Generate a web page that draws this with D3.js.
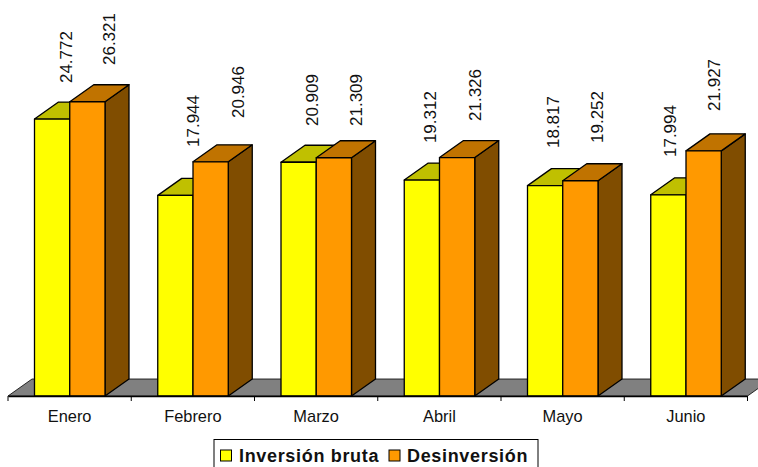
<!DOCTYPE html>
<html>
<head>
<meta charset="utf-8">
<script src="https://cdn.jsdelivr.net/npm/d3@7"></script>
<style>
body { margin: 0; background: #fff; }
svg { display: block; }
text { font-family: "Liberation Sans", Arial, sans-serif; fill: #111; }
</style>
</head>
<body>
<div id="chartArea"></div>
<script>
const meses = ['Enero', 'Febrero', 'Marzo', 'Abril', 'Mayo', 'Junio'];
const inversionBruta = [24772, 17944, 20909, 19312, 18817, 17994];
const desinversion = [26321, 20946, 21309, 21326, 19252, 21927];
const serieNombres = ['Inversión bruta', 'Desinversión'];

// fill colours per series: front, top, side
const caras = [
    { front: '#ffff00', top: '#c0c000', side: '#808000' },
    { front: '#ff9900', top: '#c07300', side: '#804d00' }
];

const width = 758, height = 467;
const baseY = 396;
const depthX = 24, depthY = 17;

let svg = d3.select('#chartArea').append('svg')
    .attr('width', width)
    .attr('height', height);

let x0 = d3.scaleBand().domain(meses).range([8, 747.5]);
let x1 = d3.scaleBand().domain([0, 1]).range([26.5, 97]);
let y = d3.scaleLinear().domain([0, 30000]).range([baseY, 60.6]);

// the value labels in the original do not sit at a fixed offset from the bars
const labelShiftX = [[13.9, 21.3], [17.6, 27], [13.4, 21.8], [8.1, 17.5], [7.9, 16.3], [1.6, 10]];
const labelGapY = [[19, 19.7], [31.4, 26.8], [19.2, 14.8], [20, 19.6], [20.6, 20.8], [20.8, 22.9]];

// Floor of the 3D plot
svg.append('path')
    .attr('d', 'M8,' + baseY + 'L' + (8 + depthX) + ',' + (baseY - depthY) +
        'L' + (747.5 + depthX) + ',' + (baseY - depthY) + 'L747.5,' + baseY + 'Z')
    .attr('fill', '#808080')
    .attr('stroke', '#000')
    .attr('stroke-width', 0.8);

function poly(points) {
    return 'M' + points.map(p => p.join(',')).join('L') + 'Z';
}

meses.forEach((mes, i) => {
    [inversionBruta[i], desinversion[i]].forEach((valor, s) => {
        let left = x0(mes) + x1(s);
        let right = left + x1.bandwidth();
        let top = y(valor);
        let g = svg.append('g')
            .attr('stroke', '#000')
            .attr('stroke-width', 1.3)
            .attr('stroke-linejoin', 'round');

        // side
        g.append('path')
            .attr('fill', caras[s].side)
            .attr('d', poly([[right, baseY], [right, top], [right + depthX, top - depthY], [right + depthX, baseY - depthY]]));
        // top
        g.append('path')
            .attr('fill', caras[s].top)
            .attr('d', poly([[left, top], [left + depthX, top - depthY], [right + depthX, top - depthY], [right, top]]));
        // front
        g.append('path')
            .attr('fill', caras[s].front)
            .attr('d', poly([[left, baseY], [left, top], [right, top], [right, baseY]]));
    });
});

// Value labels go on top of everything
meses.forEach((mes, i) => {
    [inversionBruta[i], desinversion[i]].forEach((valor, s) => {
        let lx = x0(mes) + x1(s) + x1.bandwidth() / 2 + labelShiftX[i][s];
        let ly = y(valor) - depthY - labelGapY[i][s];
        svg.append('text')
            .attr('transform', 'translate(' + lx + ',' + ly + ') rotate(-90)')
            .attr('dy', '0.35em')
            .style('font-size', '17px')
            .text(d3.format('.3f')(valor / 1000));
    });
});

// x axis, labels from the band scale
let axis = svg.append('g')
    .attr('transform', 'translate(0,' + baseY + ')')
    .call(d3.axisBottom(x0).tickSize(0).tickPadding(14));
axis.select('.domain').attr('stroke', '#000').attr('stroke-width', 1.3);
axis.selectAll('text').style('font-size', '16.4px').attr('fill', '#111');

// ticks sit on the category boundaries
axis.selectAll('line.boundary')
    .data(d3.range(meses.length + 1))
    .enter().append('line')
    .attr('class', 'boundary')
    .attr('x1', d => 8 + d * x0.step())
    .attr('x2', d => 8 + d * x0.step())
    .attr('y1', 0)
    .attr('y2', 5)
    .attr('stroke', '#000')
    .attr('stroke-width', 1);

// Legend, its lower edge is cut off by the bottom of the picture
let legend = svg.append('g');
legend.append('rect')
    .attr('x', 214).attr('y', 439.5)
    .attr('width', 324).attr('height', 40)
    .attr('fill', '#fff')
    .attr('stroke', '#000');

[[220.5, 239], [389, 407]].forEach((pos, s) => {
    legend.append('rect')
        .attr('x', pos[0]).attr('y', 450)
        .attr('width', 11).attr('height', 11)
        .attr('fill', caras[s].front)
        .attr('stroke', '#000');
    legend.append('text')
        .attr('x', pos[1]).attr('y', 461.5)
        .style('font-size', '18px')
        .style('font-weight', 'bold')
        .style('letter-spacing', '0.67px')
        .text(serieNombres[s]);
});
</script>
</body>
</html>
